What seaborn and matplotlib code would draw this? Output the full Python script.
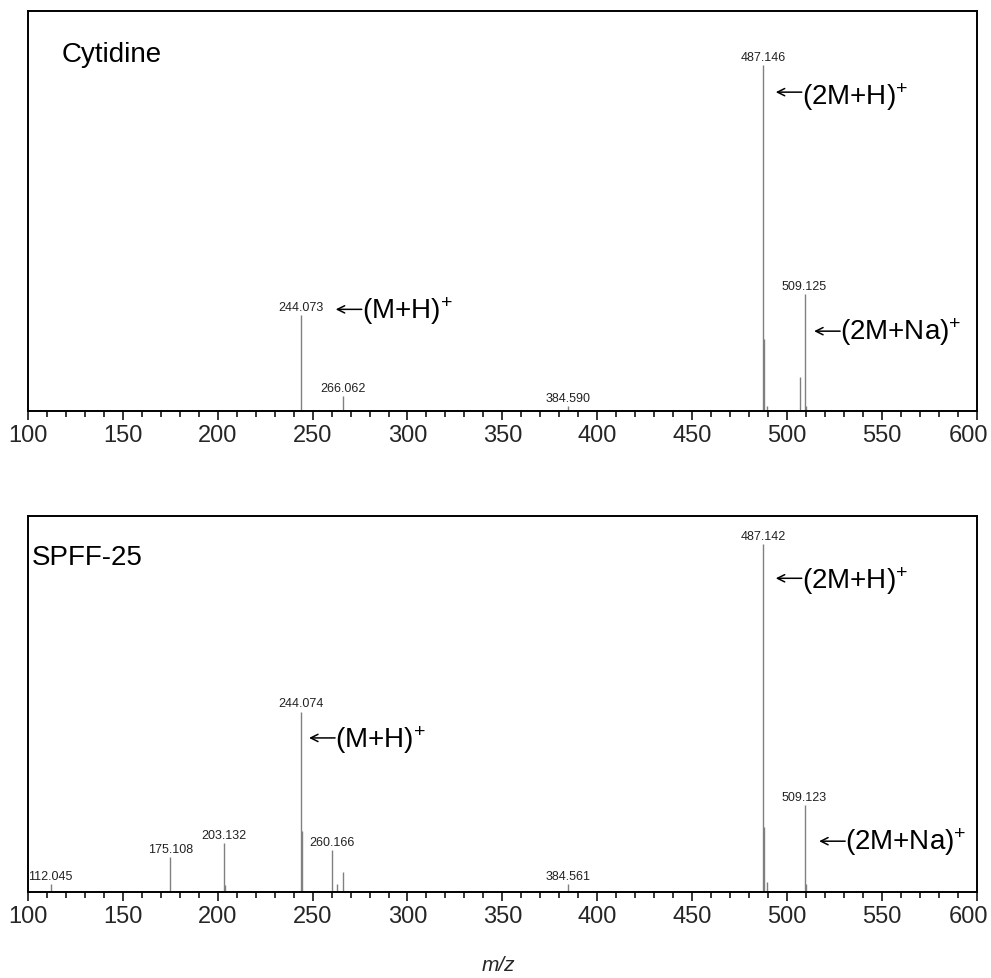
import numpy as np
import pandas as pd
import matplotlib
matplotlib.use("Agg")
import matplotlib.pyplot as plt
from matplotlib.ticker import MultipleLocator
import matplotlib.transforms as mtransforms
import seaborn as sns

# ---------------- data ----------------
top_mz = [244.073, 266.062, 384.590, 487.146, 487.600, 489.150, 506.600, 509.125, 510.130]
top_int = [27.7, 4.5, 1.6, 100.0, 20.8, 1.5, 10.0, 33.8, 1.5]
top_labeled = [244.073, 266.062, 384.590, 487.146, 509.125]

bot_mz = [112.045, 175.108, 203.132, 204.130, 244.074, 244.500, 260.166, 263.100,
          266.060, 384.561, 487.142, 487.600, 489.150, 509.123, 510.130]
bot_int = [2.2, 10.1, 14.2, 2.0, 51.9, 17.5, 12.1, 2.2,
           5.9, 2.2, 100.0, 18.7, 2.8, 25.0, 2.3]
bot_labeled = [112.045, 175.108, 203.132, 244.074, 260.166, 384.561, 487.142, 509.123]

panel_titles = ["Cytidine", "SPFF-25"]
ion_labels = ["(2M+H)", "(M+H)", "(2M+Na)"]
x_ticks_major = [100, 150, 200, 250, 300, 350, 400, 450, 500, 550, 600]

# ---------------- style ----------------
sns.set_style("ticks")
plt.rcParams["font.family"] = ["Liberation Sans", "DejaVu Sans"]
plt.rcParams["mathtext.default"] = "regular"

fig = plt.figure(figsize=(9.91, 9.79), dpi=100)
ax_top = fig.add_axes([0.028, 0.579, 0.958, 0.4086])
ax_bot = fig.add_axes([0.028, 0.0878, 0.958, 0.384])

# (text x, baseline y) in axes fraction, arrow height above baseline in px
panels = [
    (ax_top, top_mz, top_int, top_labeled, 115.6,
     [(0.8153, 0.7675, 12), (0.3518, 0.232, 9), (0.8557, 0.18, 8)], (0.036, 0.876)),
    (ax_bot, bot_mz, bot_int, bot_labeled, 108.1,
     [(0.8153, 0.808, 10), (0.3237, 0.386, 9), (0.861, 0.114, 8)], (0.004, 0.872)),
]

def shifted(ax, dx_px, dy_px):
    return ax.transAxes + mtransforms.ScaledTranslation(dx_px / 100, dy_px / 100,
                                                        fig.dpi_scale_trans)

for i, (ax, mz, inten, labeled, ytop, ion_pos, title_pos) in enumerate(panels):
    df = pd.DataFrame({"mz": mz, "intensity": inten})
    ax.vlines(df["mz"], 0, df["intensity"], color="#808080", lw=1.0)
    for m, v in zip(df["mz"], df["intensity"]):
        if m in labeled:
            ax.annotate(f"{m:.3f}", xy=(m, v), xytext=(0, 1.5),
                        textcoords="offset points", ha="center", va="bottom",
                        fontsize=9, color="#222222")
    ax.set_xlim(100, 600)
    ax.set_ylim(0, ytop)
    ax.set_yticks([])
    ax.xaxis.set_major_locator(MultipleLocator(50))
    ax.xaxis.set_minor_locator(MultipleLocator(10))
    ax.tick_params(axis="x", which="major", direction="out", length=6.5,
                   width=1.1, labelsize=17, pad=3, color="black")
    ax.tick_params(axis="x", which="minor", direction="out", length=4,
                   width=1.1, color="black")
    for sp in ax.spines.values():
        sp.set_visible(True)
        sp.set_linewidth(1.4)
        sp.set_color("black")
    ax.set_xticks(x_ticks_major)
    ax.set_xticklabels([str(t) for t in x_ticks_major])
    last = ax.get_xticklabels()[-1]
    last.set_transform(last.get_transform() +
                       mtransforms.ScaledTranslation(-9 / 100, 0, fig.dpi_scale_trans))
    for lab, (fx, fy, ah) in zip(ion_labels, ion_pos):
        ax.text(fx, fy, lab + "$^{+}$", transform=ax.transAxes,
                ha="left", va="baseline", fontsize=20, color="black")
        ax.annotate("", xy=(fx, fy), xycoords=shifted(ax, -26, ah),
                    xytext=(fx, fy), textcoords=shifted(ax, 0, ah),
                    arrowprops=dict(arrowstyle="->", lw=1.1, color="black",
                                    shrinkA=0, shrinkB=0, mutation_scale=13))
    ax.text(title_pos[0], title_pos[1], panel_titles[i], transform=ax.transAxes,
            ha="left", va="baseline", fontsize=20, color="black")

fig.text(0.5025, 0.004, "m/z", ha="center", va="bottom", fontsize=15,
         style="italic")

fig.savefig("out.png", dpi=100)
